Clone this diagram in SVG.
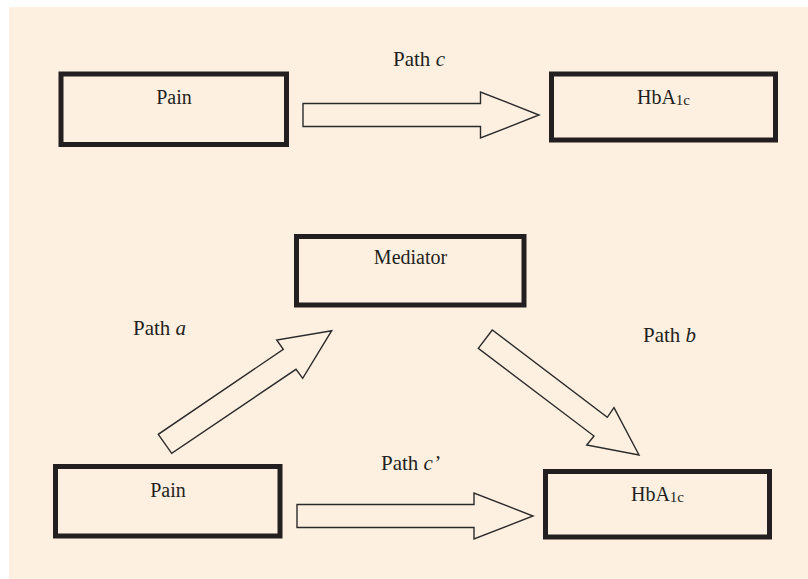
<svg xmlns="http://www.w3.org/2000/svg" width="808" height="579" viewBox="0 0 808 579">
<style>
.box{fill:#fdf0e1;stroke:#231f20;stroke-width:5}
.arr{fill:#fdf0e1;stroke:#2b2b2b;stroke-width:1.4;stroke-linejoin:miter}
text{font-family:"Liberation Serif","Times New Roman",serif;font-size:20px;fill:#231f20}
.lbl{font-size:21px}
.c{text-anchor:middle}
.sub{font-size:15px}
.it{font-style:italic}
</style>
<rect x="0" y="0" width="808" height="579" fill="#ffffff"/>
<rect x="9" y="7" width="799" height="572" fill="#fdf0e1"/>
<g id="pain-top"><rect class="box" x="61" y="74" width="225.5" height="70.5"/><text class="c" x="174" y="104">Pain</text></g>
<g id="hba1c-top"><rect class="box" x="551.5" y="74" width="224" height="66"/><text class="c" x="663.5" y="104">HbA<tspan class="sub" dy="1">1c</tspan></text></g>
<g id="mediator"><rect class="box" x="296.5" y="236.5" width="227.5" height="68.5"/><text class="c" x="410.5" y="264">Mediator</text></g>
<g id="pain-bottom"><rect class="box" x="55.5" y="466.5" width="224.5" height="69.5"/><text class="c" x="168" y="497">Pain</text></g>
<g id="hba1c-bottom"><rect class="box" x="545.5" y="471.5" width="224" height="65.5"/><text class="c" x="657.5" y="500.5">HbA<tspan class="sub" dy="1">1c</tspan></text></g>
<g id="connectors">
<polygon class="arr" points="303,103.5 480.5,103.5 480.5,92 539,115 480.5,138 480.5,126.5 303,126.5"/>
<polygon class="arr" points="297,504.5 474,504.5 474,493 533,516 474,539 474,527.5 297,527.5"/>
<polygon class="arr" points="158.3,434.3 171.7,453.3 296,369.3 302.7,378.3 331.7,330.7 276.7,340 283.3,349.3"/>
<polygon class="arr" points="492.3,330 478.3,348.3 594,436 586.7,445 639,455 614,407.7 607.3,417.3"/>
</g>
<g id="labels">
<text class="c lbl" x="419" y="66">Path <tspan class="it">c</tspan></text>
<text class="lbl" x="133" y="335">Path <tspan class="it">a</tspan></text>
<text class="lbl" x="643" y="342">Path <tspan class="it">b</tspan></text>
<text class="lbl" x="381" y="470">Path <tspan class="it">c’</tspan></text>
</g>
</svg>
